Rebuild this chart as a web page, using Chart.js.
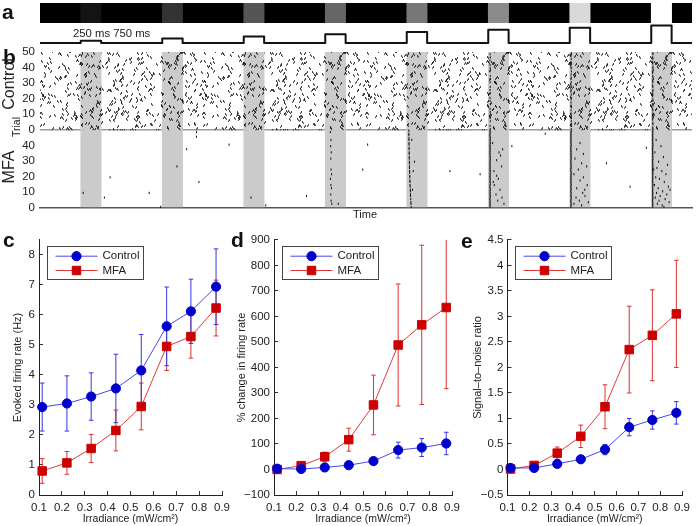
<!DOCTYPE html>
<html>
<head>
<meta charset="utf-8">
<title>MFA raster and light response</title>
<script src="https://cdn.jsdelivr.net/npm/chart.js@4.4.1/dist/chart.umd.min.js"></script>
<style>
  body { margin: 0; background: #fff; }
  #fig { position: relative; width: 700px; height: 526px; overflow: hidden;
         font-family: "Liberation Sans", Arial, sans-serif; color: #222; }
  #fig canvas { position: absolute; }
  .t { position: absolute; white-space: nowrap; line-height: 1; }
  .letter { font-weight: bold; font-size: 21px; color: #111; }
  .vert { transform: translate(-50%, -50%) rotate(-90deg); }
</style>
</head>
<body>
<div id="fig">
  <canvas id="stim" width="700" height="26" style="left:0;top:0"></canvas>
  <canvas id="wave" width="700" height="28" style="left:0;top:20px"></canvas>
  <canvas id="raster" width="700" height="182" style="left:0;top:40px"></canvas>
  <canvas id="rate" width="240" height="301" style="left:0;top:225px"></canvas>
  <canvas id="change" width="240" height="301" style="left:230px;top:225px"></canvas>
  <canvas id="snr" width="238" height="301" style="left:462px;top:225px"></canvas>

  <div class="t letter" style="left:2px;top:1px">a</div>
  <div class="t letter" style="left:3px;top:46px">b</div>
  <div class="t letter" style="left:3px;top:229px">c</div>
  <div class="t letter" style="left:231px;top:229px">d</div>
  <div class="t letter" style="left:461px;top:230px">e</div>
  <div class="t" style="left:73px;top:28px;font-size:11.3px">250 ms 750 ms</div>
  <div class="t vert" style="left:9px;top:84px;font-size:16px">Control</div>
  <div class="t vert" style="left:16px;top:127px;font-size:10.5px">Trial</div>
  <div class="t vert" style="left:9px;top:167px;font-size:16px">MFA</div>
  <div class="t" style="left:353px;top:209px;font-size:11px">Time</div>
</div>

<script>
// ---------- data ----------
IRRADIANCE = [0.114, 0.222, 0.328, 0.436, 0.547, 0.658, 0.764, 0.874] // mW/cm2

CTRL_RATE     = [2.93, 3.05, 3.28, 3.55, 4.15, 5.62, 6.12, 6.94] // Hz
CTRL_RATE_ERR = [0.80, 0.92, 0.79, 1.14, 1.20, 1.31, 1.07, 1.26]
MFA_RATE      = [0.80, 1.07, 1.55, 2.15, 2.95, 4.95, 5.28, 6.23]
MFA_RATE_ERR  = [0.41, 0.38, 0.47, 0.68, 0.78, 0.80, 0.72, 0.93]

CTRL_CHANGE     = [3, 2, 8, 17, 33, 76, 86, 102] // %
CTRL_CHANGE_ERR = [4, 5, 6, 8, 10, 31, 35, 44]
MFA_CHANGE      = [0, 15, 50, 117, 253, 488, 567, 635]
MFA_CHANGE_ERR  = [3, 6, 18, 45, 117, 239, 312, 318]

CTRL_SNR     = [0.03, 0.03, 0.11, 0.20, 0.39, 0.83, 0.97, 1.11]
CTRL_SNR_ERR = [0.02, 0.02, 0.03, 0.04, 0.10, 0.17, 0.18, 0.22]
MFA_SNR      = [0.01, 0.08, 0.32, 0.65, 1.23, 2.35, 2.63, 3.05]
MFA_SNR_ERR  = [0.01, 0.03, 0.12, 0.22, 0.43, 0.85, 0.89, 1.05]

RECORD_LENGTH = 8      // s
SLOT = 0.25            // s, raster bin used for the light pulses
STIM_ONSET = [0.5, 1.5, 2.5, 3.5, 4.5, 5.5, 6.5, 7.5] // s
STIM_DURATION = 0.25   // s
TRIALS = 50

// MFA spikes outside the pulses: [time s, trial]
MFA_BACKGROUND = [[0.53, 10], [0.79, 7], [0.86, 20], [1.34, 10], [1.48, 1], [1.68, 27], [1.80, 38],
    [1.92, 46], [1.92, 49], [1.95, 17], [2.32, 41], [2.59, 7], [2.77, 2], [3.27, 8], [3.96, 25],
    [4.02, 41], [5.03, 24], [5.40, 22], [5.79, 40], [6.20, 48], [6.95, 29], [7.24, 14], [7.44, 39]]

// MFA spikes inside a pulse: [latency ms, trial]
MFA_PULSE4 = [[62, 49], [70, 44], [66, 40], [74, 36], [68, 32], [72, 25], [78, 22], [64, 19],
    [70, 15], [76, 13], [68, 9], [72, 5], [80, 3], [160, 3]]
MFA_PULSE5 = [[80, 24], [62, 44], [95, 30], [70, 12]]
MFA_PULSE6 = [[132, 36], [152, 34], [103, 31], [165, 27], [70, 24], [103, 21], [124, 19], [62, 17],
    [144, 12], [95, 9], [169, 7], [116, 5], [193, 3], [74, 15], [177, 38], [54, 42]]
MFA_PULSE7 = [[126, 42], [85, 38], [167, 35], [64, 32], [146, 29], [208, 27], [105, 25], [52, 22],
    [167, 20], [126, 18], [215, 15], [85, 13], [159, 10], [187, 8], [77, 7], [118, 5], [228, 4],
    [52, 3], [146, 2], [184, 12]]
MFA_PULSE8 = [[60, 44], [120, 40], [45, 36], [150, 33], [90, 30], [200, 28], [70, 26], [130, 24],
    [180, 22], [55, 20], [100, 19], [160, 17], [40, 15], [210, 14], [85, 13], [140, 11], [65, 10],
    [190, 9], [110, 8], [50, 7], [170, 6], [95, 5], [220, 4], [75, 3], [135, 2], [155, 1], [230, 12], [30, 25]]

// first spike latency (ms) after pulse onset, trial 1..50, null = no spike
MFA_FIRST5 = [55, null, 52, 51, null, 49, null, 47, 46, null,
              45, 44, null, 42, 41, null, 40, 39, null, 38,
              37, null, 36, 35, null, 34, 33, null, 33, 32,
              null, 31, 31, null, 30, 30, null, 29, 29, null,
              28, 28, null, 27, 27, null, 26, 26, null, 25]
MFA_FIRST6 = [22, 20, 24, 21, 23, 19, 22, 25, 20, 23,
              21, 24, 22, 20, 23, 25, 21, 22, 24, 20,
              23, 21, 22, 25, 20, 24, 22, 21, 23, 20,
              24, 22, 25, 21, 23, 20, 22, 24, 21, 23,
              20, 25, 22, 21, 24, 23, 20, 22, 24, 21]
MFA_FIRST7 = [16, 14, 17, 15, 13, 16, 18, 14, 15, 17,
              13, 16, 15, 14, 18, 16, 15, 13, 17, 14,
              16, 15, 18, 14, 13, 16, 17, 15, 14, 16,
              13, 18, 15, 16, 14, 17, 15, 13, 16, 14,
              18, 15, 16, 13, 17, 14, 15, 16, 14, 17]
MFA_FIRST8 = [19, 17, 20, 18, 16, 19, 21, 17, 18, 20,
              16, 19, 18, 17, 21, 19, 18, 16, 20, 17,
              19, 18, 21, 17, 16, 19, 20, 18, 17, 19,
              16, 21, 18, 19, 17, 20, 18, 16, 19, 17,
              21, 18, 19, 16, 20, 17, 18, 19, 17, 20]
CTRL_FIRST6 = [24, null, 22, null, null, 25, null, 23, 21, null,
               null, 24, null, 22, null, null, 26, null, 23, null,
               21, null, null, 25, null, 22, null, 24, null, null,
               23, null, 21, null, 25, null, null, 22, null, 24,
               null, 23, null, null, 21, null, 25, null, 22, null]
CTRL_FIRST7 = [18, null, 16, 17, null, 19, null, 15, 18, null,
               17, null, 16, null, 19, 18, null, 15, null, 17,
               16, null, 18, null, 15, 17, null, 19, 16, null,
               18, null, 15, 17, null, 16, null, 19, null, 18,
               15, null, 17, 16, null, 18, null, 15, 17, null]
CTRL_FIRST8 = [20, 18, null, 21, 19, null, 17, 20, null, 18,
               21, null, 19, 17, null, 20, 18, null, 21, 19,
               null, 17, 20, null, 18, 21, null, 19, 17, null,
               20, 18, null, 21, 19, null, 17, 20, null, 18,
               21, null, 19, 17, null, 20, 18, null, 21, 19]

// ---------- styles ----------
STIM_SHADE = ['#131313', '#333333', '#555555', '#666666', '#777777', '#8a8a8a', '#d9d9d9', '#ffffff']
BLUE = '#0000cc'
BLUE_LINE = '#4848f0'
RED = '#cc0000'
RED_LINE = '#dd3b3b'
FONT = '"Liberation Sans", Arial, sans-serif'

Chart.defaults.font.family = FONT
Chart.defaults.color = '#222'

function baseOptions(padding)
{
    return {
        responsive: false,
        devicePixelRatio: 1,
        animation: false,
        events: [],
        layout: {padding: padding},
        plugins: {legend: {display: false}, tooltip: {enabled: false}}
    }
}

// ---------- a: light pulses ----------
var stimSets = [{data: [[0, RECORD_LENGTH]], backgroundColor: '#000', grouped: false, order: 2}]
for (let i = 0; i < STIM_ONSET.length; i++)
    stimSets.push({data: [[STIM_ONSET[i], STIM_ONSET[i] + STIM_DURATION]],
                   backgroundColor: STIM_SHADE[i], grouped: false, order: 1})

var stimOpts = baseOptions({left: 40, right: 8, top: 3, bottom: 3})
stimOpts.indexAxis = 'y'
stimOpts.datasets = {bar: {barPercentage: 1, categoryPercentage: 1, borderWidth: 0}}
stimOpts.scales = {x: {type: 'linear', min: 0, max: RECORD_LENGTH, display: false, offset: false},
                   y: {display: false}}
new Chart('stim', {type: 'bar', data: {labels: ['light'], datasets: stimSets}, options: stimOpts})

// square wave, pulse height = irradiance
var wave = [{x: 0, y: 0}]
for (let i = 0; i < STIM_ONSET.length; i++) {
    wave.push({x: STIM_ONSET[i], y: IRRADIANCE[i]})
    wave.push({x: STIM_ONSET[i] + STIM_DURATION, y: 0})
}
wave.push({x: RECORD_LENGTH, y: 0})

var waveOpts = baseOptions({left: 40, right: 8, top: 3, bottom: 5})
waveOpts.scales = {x: {type: 'linear', min: 0, max: RECORD_LENGTH, display: false},
                   y: {min: 0, max: 1, display: false}}
new Chart('wave', {
    type: 'line',
    data: {datasets: [{data: wave, stepped: true, borderColor: '#111', borderWidth: 2,
                       borderJoinStyle: 'round', pointRadius: 0, clip: false}]},
    options: waveOpts
})

// ---------- b: raster ----------
// texture standing in for the dense spontaneous control spikes (fill style only)
function hash(i, k)
{
    var h = (i * 374761393 + k * 668265263) | 0
    h = Math.imul(h ^ (h >>> 13), 1274126177)
    return ((h ^ (h >>> 16)) >>> 0) / 4294967296
}

function spikeTexture(w, h, n, seed)
{
    var c = document.createElement('canvas')
    c.width = w
    c.height = h
    var g = c.getContext('2d')
    g.fillStyle = 'rgba(15,15,15,0.75)'
    for (let i = 0; i < n; i++) {
        let x = Math.floor(hash(i, seed) * w)
        let y = Math.floor(hash(i, seed + 7) * h)
        let lean = hash(i, seed + 13) < 0.5 ? -1 : 1
        for (const dx of [-w, 0, w])
            for (const dy of [-h, 0, h]) {
                g.fillRect(x + dx, y + dy, 1, 2)
                g.fillRect(x + dx + lean, y + dy + 1.5, 1, 1.5)
            }
    }
    return g.createPattern(c, 'repeat')
}

var slots = []
for (let i = 0; i < RECORD_LENGTH / SLOT; i++)
    slots.push(i * SLOT)
var stimSlot = STIM_ONSET.map(t => Math.round(t / SLOT))

function pulseSpikes(pairs, pulse, base)
{
    return pairs.map(p => ({x: STIM_ONSET[pulse - 1] + p[0] / 1000, y: base + p[1] - 0.5}))
}
function firstSpikes(lat, pulse, base)
{
    var out = []
    lat.forEach((ms, i) => {
        if (ms !== null)
            out.push({x: STIM_ONSET[pulse - 1] + ms / 1000, y: base + i + 0.5})
    })
    return out
}

var mfaSpikes = MFA_BACKGROUND.map(p => ({x: p[0], y: p[1] - 0.5}))
    .concat(pulseSpikes(MFA_PULSE4, 4, 0), pulseSpikes(MFA_PULSE5, 5, 0), pulseSpikes(MFA_PULSE6, 6, 0),
            pulseSpikes(MFA_PULSE7, 7, 0), pulseSpikes(MFA_PULSE8, 8, 0),
            firstSpikes(MFA_FIRST5, 5, 0), firstSpikes(MFA_FIRST6, 6, 0),
            firstSpikes(MFA_FIRST7, 7, 0), firstSpikes(MFA_FIRST8, 8, 0))
var ctrlOnset = firstSpikes(CTRL_FIRST6, 6, TRIALS).concat(firstSpikes(CTRL_FIRST7, 7, TRIALS),
                                                           firstSpikes(CTRL_FIRST8, 8, TRIALS))

var tick = {type: 'scatter', xAxisID: 'xt', pointStyle: 'line', rotation: 90, radius: 1.1,
            borderWidth: 1, borderColor: '#111', order: 1}

var rasterOpts = baseOptions({left: 0, right: 8, top: 7.7, bottom: 0})
rasterOpts.datasets = {bar: {barPercentage: 1, categoryPercentage: 1, borderWidth: 0}}
rasterOpts.scales = {
    x: {type: 'category', display: false, offset: true},
    xt: {type: 'linear', position: 'bottom', min: 0, max: RECORD_LENGTH, offset: false,
         ticks: {display: false}, grid: {display: false, offset: false},
         border: {color: '#555', width: 1.5},
         afterFit: s => { s.height = 14.3 }},
    y: {min: 0, max: 2 * TRIALS, z: 1,
        ticks: {stepSize: 10, autoSkip: false, padding: 5, font: {size: 11.5}, color: '#222',
                callback: v => v >= TRIALS ? v - TRIALS : v},
        grid: {drawTicks: false, lineWidth: 1.5,
               color: c => c.tick && c.tick.value == TRIALS ? '#9c9c9c' : 'rgba(0,0,0,0)'},
        border: {display: false},
        afterFit: s => { s.width = 40 }}
}

new Chart('raster', {
    type: 'bar',
    data: {
        labels: slots,
        datasets: [
            {data: slots.map((t, i) => stimSlot.includes(i) ? [0, 2 * TRIALS] : null),
             backgroundColor: '#cbcbcb', grouped: false, order: 5},
            {data: slots.map(() => [TRIALS, 2 * TRIALS]),
             backgroundColor: spikeTexture(163, 80, 420, 3), grouped: false, order: 4},
            {data: slots.map((t, i) => stimSlot.includes(i) ? [TRIALS, 2 * TRIALS] : null),
             backgroundColor: spikeTexture(163, 80, 180, 41), grouped: false, order: 3},
            Object.assign({data: mfaSpikes}, tick),
            Object.assign({data: ctrlOnset}, tick)
        ]
    },
    options: rasterOpts
})

// ---------- c, d, e ----------
var boxLegend = {
    id: 'boxLegend',
    afterDraw(chart, args, opts) {
        var ctx = chart.ctx
        var x0 = Math.round(chart.chartArea.left + opts.dx) + 0.5
        var y0 = Math.round(chart.chartArea.top + opts.dy) + 0.5
        ctx.save()
        ctx.fillStyle = '#fff'
        ctx.fillRect(x0, y0, opts.w, 33)
        ctx.strokeStyle = '#444'
        ctx.lineWidth = 1
        ctx.strokeRect(x0, y0, opts.w, 33)
        var rows = chart.data.datasets.filter(d => d.label)
        rows.forEach((d, i) => {
            var y = y0 + 9.7 + i * 14.3
            ctx.strokeStyle = d.borderColor
            ctx.beginPath()
            ctx.moveTo(x0 + 8, y)
            ctx.lineTo(x0 + 50, y)
            ctx.stroke()
            ctx.fillStyle = d.pointBackgroundColor
            ctx.strokeStyle = d.pointBorderColor
            ctx.beginPath()
            if (d.pointStyle == 'rect') {
                var s = d.pointRadius * Math.SQRT1_2
                ctx.rect(x0 + 29 - s, y - s, 2 * s, 2 * s)
            } else {
                ctx.arc(x0 + 29, y, d.pointRadius, 0, 2 * Math.PI)
            }
            ctx.fill()
            ctx.stroke()
            ctx.fillStyle = '#222'
            ctx.font = '11.5px ' + FONT
            ctx.textBaseline = 'middle'
            ctx.fillText(d.label, x0 + 55, y)
        })
        ctx.restore()
    }
}

function series(label, ys, color, line, style, radius)
{
    return {
        label: label, showLine: true,
        data: IRRADIANCE.map((x, i) => ({x: x, y: ys[i]})),
        borderColor: line, borderWidth: 1,
        pointStyle: style, pointRadius: radius,
        pointBackgroundColor: color, pointBorderColor: color, pointBorderWidth: 1,
        clip: false, order: style == 'circle' ? 1 : 2
    }
}

function errorBars(ys, es, color)
{
    return IRRADIANCE.map((x, i) => ({
        showLine: true,
        data: [{x: x, y: ys[i] - es[i]}, {x: x, y: ys[i] + es[i]}],
        borderColor: color, borderWidth: 1,
        pointStyle: 'line', pointRadius: 2.3, pointBorderColor: color, pointBorderWidth: 1,
        order: 6
    }))
}

function panel(id, ctrl, ctrlErr, mfa, mfaErr, y, yTitle, dims)
{
    var opts = baseOptions({left: 0, right: dims.right, top: 5, bottom: 0})
    opts.plugins.boxLegend = {dx: 7.5, dy: 6, w: 96}
    var tickFont = {size: 11.5}
    opts.scales = {
        x: {type: 'linear', min: 0.1, max: 0.9,
            ticks: {stepSize: 0.1, autoSkip: false, maxRotation: 0, padding: 10, font: tickFont,
                    color: '#222', callback: v => v.toFixed(1)},
            grid: {drawOnChartArea: false, tickLength: -4, color: '#333'},
            border: {color: '#222', width: 1},
            title: {display: true, text: 'Irradiance (mW/cm²)', font: {size: 10.5}, color: '#222',
                    padding: {top: 0, bottom: 1}},
            afterFit: s => { s.height = 31 }},
        y: {min: y.min, max: y.max,
            afterBuildTicks: s => { s.ticks = s.ticks.filter(t => t.value <= y.top + 1e-9) },
            ticks: {stepSize: y.step, padding: 8, font: tickFont, color: '#222',
                    callback: v => String(Math.round(v * 10) / 10).replace('-', '\u2212')},
            grid: {drawOnChartArea: false, tickLength: -4, color: '#333'},
            border: {color: '#222', width: 1},
            title: {display: true, text: yTitle, font: {size: 11}, color: '#222',
                    padding: {top: dims.titlePad, bottom: 0}},
            afterFit: s => { s.width = dims.yWidth }}
    }
    return new Chart(id, {
        type: 'scatter',
        data: {datasets: [series('Control', ctrl, BLUE, BLUE_LINE, 'circle', 4.6),
                          series('MFA', mfa, RED, RED_LINE, 'rect', 6)]
                          .concat(errorBars(ctrl, ctrlErr, '#3535e8'), errorBars(mfa, mfaErr, '#dc3030'))},
        options: opts,
        plugins: [boxLegend]
    })
}

panel('rate', CTRL_RATE, CTRL_RATE_ERR, MFA_RATE, MFA_RATE_ERR,
      {min: 0, max: 8.5, step: 1, top: 8}, 'Evoked firing rate (Hz)',
      {right: 16, yWidth: 39, titlePad: 10.9})
panel('change', CTRL_CHANGE, CTRL_CHANGE_ERR, MFA_CHANGE, MFA_CHANGE_ERR,
      {min: -100, max: 900, step: 100, top: 900}, '% change in firing rate',
      {right: 11, yWidth: 44, titlePad: 5.1})
panel('snr', CTRL_SNR, CTRL_SNR_ERR, MFA_SNR, MFA_SNR_ERR,
      {min: -0.5, max: 4.5, step: 0.5, top: 4.5}, 'Signal\u2013to\u2013noise ratio',
      {right: 8, yWidth: 45.5, titlePad: 9.4})
</script>
</body>
</html>
